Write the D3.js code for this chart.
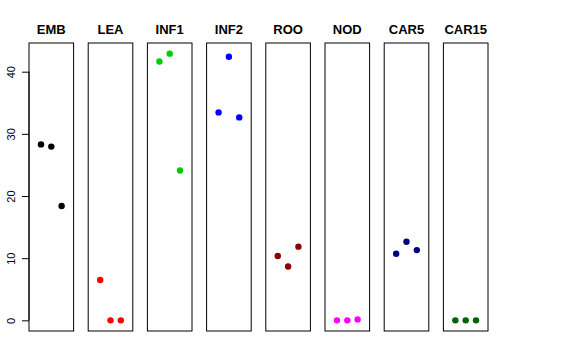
<!DOCTYPE html>
<html><head><meta charset="utf-8">
<script src="https://cdn.jsdelivr.net/npm/d3@7"></script>
<style>body{margin:0;background:#fff}svg{display:block}</style>
</head><body><svg id="c" width="576" height="360"></svg>
<script>
const categories = ["EMB","LEA","INF1","INF2","ROO","NOD","CAR5","CAR15"];
const colors = ["#000000","#FF0000","#00CD00","#0000FF","#8B0000","#FF00FF","#000080","#006400"];
const replicates = [1,2,3];
const valEMB = [28.3, 27.95, 18.4];
const valLEA = [6.5, 0, 0];
const valINF1 = [41.65, 42.9, 24.1];
const valINF2 = [33.45, 42.4, 32.65];
const valROO = [10.35, 8.65, 11.85];
const valNOD = [0, 0, 0.15];
const valCAR5 = [10.7, 12.65, 11.3];
const valCAR15 = [0, 0, 0];
const yTicks = [0,10,20,30,40];
const series = [valEMB,valLEA,valINF1,valINF2,valROO,valNOD,valCAR5,valCAR15];

(function(){
const svg = d3.select("#c");
const panelW = 44.6, step = 59.2, x0 = 29, pTop = 43, pBottom = 331;
const yMax = d3.max(series.flat()), yMin = 0;
const pad = (yMax - yMin) * 0.04;
const y = d3.scaleLinear().domain([yMin - pad, yMax + pad]).range([pBottom, pTop]);
const x = d3.scaleLinear().domain([-0.16, 4.16]).range([0, panelW]);

categories.forEach((cat, i) => {
  const g = svg.append("g").attr("transform", `translate(${x0 + i*step},0)`);
  g.append("rect").attr("x",0).attr("y",pTop).attr("width",panelW).attr("height",pBottom-pTop)
    .attr("fill","none").attr("stroke","#000").attr("stroke-width",1);
  g.append("text").attr("x",panelW/2).attr("y",34).attr("text-anchor","middle")
    .attr("font-family","Liberation Sans, Arial, sans-serif").attr("font-weight","bold")
    .attr("font-size",13).text(cat);
  g.selectAll("circle").data(series[i]).join("circle")
    .attr("cx",(d,j)=>x(replicates[j])).attr("cy",d=>y(d)).attr("r",3.2)
    .attr("fill",colors[i]);
});

const ax = svg.append("g").attr("transform",`translate(${x0},0)`)
  .call(d3.axisLeft(y).tickValues(yTicks).tickSize(7).tickPadding(0).tickFormat(d3.format("d")));
ax.select(".domain").attr("d", `M0,${y(0)}V${y(40)}`).attr("stroke","#000");
ax.selectAll(".tick line").attr("stroke","#000");
ax.selectAll(".tick text").attr("font-family","Liberation Sans, Arial, sans-serif").attr("font-size",11)
  .attr("fill","#000").attr("text-anchor","middle").attr("dy",null)
  .attr("transform","translate(-18,0) rotate(-90)").attr("x",0).attr("y",4);
})();
</script></body></html>
